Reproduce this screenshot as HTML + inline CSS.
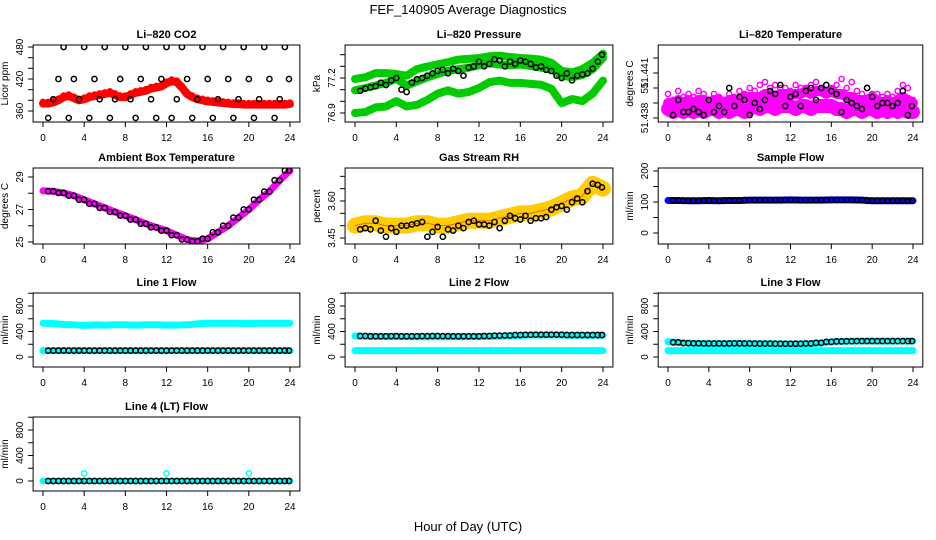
<!DOCTYPE html>
<html><head><meta charset="utf-8"><style>
html,body{margin:0;padding:0;background:#fff}
svg{display:block;font-family:"Liberation Sans",sans-serif}
</style></head><body>
<svg id="root" width="936" height="540" viewBox="0 0 936 540">
<text x="468" y="14" text-anchor="middle" font-size="13">FEF_140905  Average Diagnostics</text>
<text x="468" y="531" text-anchor="middle" font-size="13">Hour of Day (UTC)</text>
</svg>
<script>
// ---- data ----
const hourTicks=[0,4,8,12,16,20,24];
const halfHours=[0,0.5,1,1.5,2,2.5,3,3.5,4,4.5,5,5.5,6,6.5,7,7.5,8,8.5,9,9.5,10,10.5,11,11.5,12,12.5,13,13.5,14,14.5,15,15.5,16,16.5,17,17.5,18,18.5,19,19.5,20,20.5,21,21.5,22,22.5,23,23.5,24];
const hours=[0,1,2,3,4,5,6,7,8,9,10,11,12,13,14,15,16,17,18,19,20,21,22,23,24];
const blkHours=[0.5,1,1.5,2,2.5,3,3.5,4,4.5,5,5.5,6,6.5,7,7.5,8,8.5,9,9.5,10,10.5,11,11.5,12,12.5,13,13.5,14,14.5,15,15.5,16,16.5,17,17.5,18,18.5,19,19.5,20,20.5,21,21.5,22,22.5,23,23.5,23.9];
// CO2
const co2Red=[374,374,376,380,386,388,384,380,382,386,388,390,392,394,390,386,386,390,394,396,398,402,404,406,412,416,414,404,392,386,382,380,378,377,376,375,374,373,373,372,372,372,372,372,372,372,372,372,373];
const co2Blk=[347,382,420,480,347,420,382,480,347,420,382,480,347,382,420,480,382,347,420,480,382,347,420,480,347,382,480,420,347,382,480,420,347,382,480,420,347,382,480,420,347,382,480,420,347,382,480,420];
// Pressure
const presUpper=[77.192,77.206,77.242,77.242,77.234,77.220,77.276,77.298,77.316,77.336,77.358,77.364,77.372,77.386,77.392,77.380,77.372,77.366,77.358,77.330,77.262,77.248,77.276,77.330,77.408];
const presMid=[77.094,77.114,77.136,77.158,77.192,77.136,77.170,77.206,77.234,77.262,77.276,77.288,77.308,77.326,77.316,77.308,77.316,77.302,77.288,77.276,77.220,77.206,77.226,77.276,77.372];
const presLower=[76.900,76.908,76.948,76.956,77.002,76.956,76.970,77.012,77.066,77.094,77.066,77.080,77.114,77.164,77.178,77.158,77.158,77.150,77.142,77.108,76.984,77.020,77.002,77.066,77.178];
const presBlk=[77.09,77.11,77.12,77.13,77.16,77.14,77.18,77.20,77.10,77.08,77.16,77.19,77.20,77.22,77.24,77.26,77.27,77.24,77.28,77.26,77.22,77.29,77.30,77.34,77.30,77.32,77.36,77.35,77.30,77.34,77.32,77.35,77.34,77.32,77.29,77.30,77.27,77.26,77.22,77.20,77.24,77.18,77.22,77.23,77.24,77.28,77.34,77.40];
// Temperature
const tempLow=[51.4383,51.4382,51.4383,51.4382,51.4383,51.4382,51.4383,51.4382,51.4383,51.4383,51.4382,51.4383,51.4382,51.4383,51.4383,51.4382,51.4383,51.4384,51.4383,51.4384,51.4384,51.4383,51.4384,51.4384,51.4384,51.4383,51.4384,51.4384,51.4383,51.4384,51.4384,51.4384,51.4384,51.4383,51.4383,51.4382,51.4383,51.4383,51.4382,51.4383,51.4383,51.4382,51.4383,51.4382,51.4383,51.4382,51.4383,51.4382,51.4382];
const tempHigh=[51.4385,51.4385,51.4386,51.4385,51.4386,51.4385,51.4386,51.4386,51.4385,51.4386,51.4386,51.4385,51.4386,51.4386,51.4386,51.4387,51.4387,51.4387,51.4387,51.4388,51.4388,51.4387,51.4388,51.4388,51.4388,51.4388,51.4388,51.4389,51.4388,51.4389,51.4389,51.4388,51.4389,51.4388,51.4388,51.4387,51.4387,51.4386,51.4386,51.4386,51.4387,51.4386,51.4385,51.4386,51.4385,51.4386,51.4387,51.4386,51.4385];
const tempScatter=[51.4388,51.4386,51.4389,51.4387,51.4388,51.4387,51.4389,51.4388,51.4386,51.4388,51.4387,51.4386,51.4388,51.4387,51.4389,51.4388,51.4390,51.4389,51.4391,51.4392,51.4390,51.4391,51.4390,51.4390,51.4389,51.4391,51.4390,51.4390,51.4391,51.4392,51.4390,51.4391,51.4390,51.4391,51.4393,51.4390,51.4392,51.4389,51.4388,51.4390,51.4388,51.4388,51.4387,51.4388,51.4387,51.4389,51.4391,51.4390,51.4386];
const tempBlk=[51.4381,51.4386,51.4382,51.4382,51.4383,51.4382,51.4381,51.4386,51.4382,51.4384,51.4382,51.4390,51.4384,51.4387,51.4386,51.4381,51.4385,51.4383,51.4386,51.4389,51.4388,51.4391,51.4384,51.4387,51.4388,51.4384,51.4389,51.4390,51.4386,51.4390,51.4391,51.4389,51.4388,51.4382,51.4386,51.4385,51.4384,51.4383,51.4390,51.4387,51.4384,51.4385,51.4385,51.4384,51.4385,51.4389,51.4381,51.4384];
// Ambient
const ambient=[28.15,28.12,28.02,27.85,27.6,27.35,27.1,26.85,26.62,26.38,26.12,25.9,25.7,25.42,25.15,25.05,25.2,25.6,26.0,26.5,27.0,27.6,28.1,28.8,29.4];
// RH
const rhBand=[3.50,3.51,3.51,3.50,3.50,3.50,3.51,3.51,3.50,3.50,3.51,3.52,3.52,3.52,3.53,3.54,3.55,3.55,3.56,3.57,3.59,3.61,3.62,3.67,3.65];
const rhBlk=[3.485,3.49,3.485,3.52,3.48,3.455,3.49,3.475,3.50,3.50,3.505,3.51,3.515,3.455,3.475,3.495,3.455,3.485,3.48,3.50,3.49,3.515,3.52,3.505,3.505,3.50,3.515,3.49,3.52,3.54,3.53,3.525,3.54,3.52,3.53,3.53,3.535,3.565,3.575,3.58,3.565,3.595,3.61,3.595,3.64,3.67,3.665,3.655];
// Flows
const sampleFlow=[105,105,104,104,105,104,105,105,106,106,106,106,107,106,106,106,107,107,107,106,104,104,104,104,104];
const line1High=[530,525,510,505,495,505,500,505,505,500,505,505,500,500,505,520,530,530,530,530,525,530,530,530,530];
const line1Low=[100,100,100,100,100,100,100,100,100,100,100,100,100,100,100,100,100,100,100,100,100,100,100,100,100];
const line1Blk=[100,100,100,100,100,100,100,100,100,100,100,100,100,100,100,100,100,100,100,100,100,100,100,100,100];
const line2Cyan=[330,325,322,320,322,320,318,318,318,318,320,320,320,322,325,330,340,345,345,345,345,340,340,340,340];
const line2Low=[100,100,100,100,100,100,100,100,100,100,100,100,100,100,100,100,100,100,100,100,100,100,100,100,100];
const line2Blk=[330,330,325,325,328,326,325,328,330,328,326,325,326,330,335,338,345,348,350,350,350,345,345,345,345];
const line3Cyan=[240,230,215,212,210,210,210,212,210,208,208,205,205,205,210,220,235,245,248,250,250,250,250,250,250];
const line3Low=[100,100,100,100,100,100,100,100,100,100,100,100,100,100,100,100,100,100,100,100,100,100,100,100,100];
const line3Blk=[235,230,218,215,212,212,212,214,212,210,210,208,207,208,212,222,238,245,248,250,250,250,250,250,250];
const line4Cyan=[0,0,0,0,120,0,0,0,0,0,0,0,120,0,0,0,0,0,0,0,120,0,0,0,0];
const line4Blk=[0,0,0,0,0,0,0,0,0,0,0,0,0,0,0,0,0,0,0,0,0,0,0,0,0];

const NS="http://www.w3.org/2000/svg";
const root=document.getElementById('root');
function mk(tag,attrs,parent){const e=document.createElementNS(NS,tag);for(const k in attrs)e.setAttribute(k,attrs[k]);(parent||root).appendChild(e);return e;}

const cols=[{h0:43,h24:290},{h0:355,h24:603},{h0:668,h24:913}];
const rows=[{top:45,bot:122},{top:168,bot:244},{top:293,bot:367},{top:417,bot:491}];

function panel(name,title,col,row,ylab,ymin,ymax,ypmin,ypmax,ticks,tickLabels){
  const c=cols[col],r=rows[row];
  const g=mk('g',{});
  
  
  const sx=h=>c.h0+(c.h24-c.h0)*h/24;
  const sy=v=>ypmin+(ypmax-ypmin)*(v-ymin)/(ymax-ymin);
  const left=sx(-0.96),right=sx(24.96);
  const clipId='clip-'+name;
  const cp=mk('clipPath',{id:clipId},g);
  mk('rect',{x:left,y:r.top,width:right-left,height:r.bot-r.top},cp);
  const plot=mk('g',{'clip-path':`url(#${clipId})`},g);
  
  
  const box=mk('rect',{x:left,y:r.top,width:right-left,height:r.bot-r.top,fill:'none',stroke:'#000','stroke-width':1},g);
  
  
  const t=mk('text',{x:(left+right)/2,y:r.top-7,'text-anchor':'middle','font-size':11,'font-weight':'bold'},g);
  t.textContent=title;
  
  
  const xa=mk('g',{},g);
  
  
  mk('line',{x1:sx(0),x2:sx(24),y1:r.bot,y2:r.bot,stroke:'#000'},xa);
  hourTicks.forEach(h=>{
    mk('line',{x1:sx(h),x2:sx(h),y1:r.bot,y2:r.bot+5,stroke:'#000'},xa);
    const tl=mk('text',{x:sx(h),y:r.bot+19,'text-anchor':'middle','font-size':10},xa);
    tl.textContent=h;
    
    
  });
  const ya=mk('g',{},g);
  
  
  ticks.forEach((v,i)=>{
    const y=sy(v);
    mk('line',{x1:left-5,x2:left,y1:y,y2:y,stroke:'#000'},ya);
    if(tickLabels[i]!==''){
      const tl=mk('text',{x:left-10,y:y,'text-anchor':'middle','font-size':10,transform:`rotate(-90 ${left-10} ${y})`},ya);
      tl.textContent=tickLabels[i];
      
      
    }
  });
  const yl=mk('text',{x:left-25,y:(r.top+r.bot)/2,'text-anchor':'middle','font-size':10,transform:`rotate(-90 ${left-25} ${(r.top+r.bot)/2})`},g);
  yl.textContent=ylab;
  
  
  return {g:plot,sx,sy};
}
function band(p,xs,vs,color,w,name){
  const pts=xs.map((h,i)=>p.sx(h)+','+p.sy(vs[i])).join(' ');
  const pl=mk('polyline',{points:pts,fill:'none',stroke:color,'stroke-width':w,'stroke-linejoin':'round','stroke-linecap':'round'},p.g);
  
  
}
function dots(p,xs,vs,color,rad,sw,name){
  const gg=mk('g',{},p.g);
  
  
  xs.forEach((h,i)=>{
    const c=mk('circle',{cx:p.sx(h),cy:p.sy(vs[i]),r:rad,fill:'none',stroke:color,'stroke-width':sw},gg);
    
    
  });
}

// Li-820 CO2
let p=panel('co2','Li\u2013820 CO2',0,0,'Licor ppm',360,480,111,47,[360,380,400,420,440,460,480],['360','','','420','','','480']);
band(p,halfHours,co2Red,'#f00',8,'co2-red-series');
dots(p,halfHours,co2Red.map(v=>v+3),'#f00',2.5,1.5,'co2-red-points');
dots(p,blkHours,co2Blk,'#000',2.6,1.5,'co2-black-points');

// Pressure
p=panel('pressure','Li\u2013820 Pressure',1,0,'kPa',76.9,77.2,113,78,[76.9,77.0,77.1,77.2,77.3,77.4],['76.9','','','77.2','','']);
band(p,hours,presUpper,'#0c0',8,'pressure-upper-band');
band(p,hours,presMid,'#0c0',8,'pressure-middle-band');
band(p,hours,presLower,'#0c0',8,'pressure-lower-band');
dots(p,blkHours,presBlk,'#000',2.6,1.5,'pressure-black-points');

// Temperature
p=panel('temperature','Li\u2013820 Temperature',2,0,'degrees C',51.438,51.440,118,58,[51.438,51.4385,51.439,51.4395,51.440],['51.438','','51','51.441','']);
band(p,halfHours,tempLow,'#f0f',14,'temperature-low-band');
band(p,halfHours,tempHigh,'#f0f',10,'temperature-high-band');
dots(p,halfHours,tempScatter,'#f0f',2.6,1.5,'temperature-scatter-points');
dots(p,blkHours,tempBlk,'#000',2.6,1.5,'temperature-black-points');

// Ambient
p=panel('ambient','Ambient Box Temperature',0,1,'degrees C',25,29,242,177,[25,26,27,28,29],['25','','27','','29']);
band(p,hours,ambient,'#f0f',7,'ambient-magenta-series');
dots(p,blkHours,blkHours.map(h=>ambient[Math.round(h)]),'#000',2.6,1.5,'ambient-black-points');

// RH
p=panel('rh','Gas Stream RH',1,1,'percent',3.45,3.60,238,201,[3.45,3.50,3.55,3.60,3.65,3.70],['3.45','','','3.60','','']);
band(p,hours,rhBand,'#fc0',16,'rh-orange-band');
band(p,hours,rhBand,'#e60',1,'rh-red-texture');
dots(p,blkHours,rhBlk,'#000',2.6,1.5,'rh-black-points');

// Sample flow
p=panel('sample-flow','Sample Flow',2,1,'ml/min',0,200,233,171,[0,50,100,150,200],['0','','100','','200']);
band(p,hours,sampleFlow,'#00f',7,'sample-flow-blue-series');
dots(p,blkHours,blkHours.map(h=>sampleFlow[Math.round(h)]),'#000',2.6,1.5,'sample-flow-black-points');

// Line flows
const flowTicks=[0,200,400,600,800,1000],flowLabels=['0','','400','','800',''];
p=panel('line1','Line 1 Flow',0,2,'ml/min',0,800,357,306,flowTicks,flowLabels);
band(p,hours,line1High,'#0ff',7,'line1-cyan-high');
band(p,hours,line1Low,'#0ff',7,'line1-cyan-low');
dots(p,blkHours,blkHours.map(h=>line1Blk[Math.round(h)]),'#000',2.6,1.5,'line1-black-points');

p=panel('line2','Line 2 Flow',1,2,'ml/min',0,800,357,306,flowTicks,flowLabels);
band(p,hours,line2Cyan,'#0ff',7,'line2-cyan-high');
band(p,hours,line2Low,'#0ff',7,'line2-cyan-low');
dots(p,blkHours,blkHours.map(h=>line2Blk[Math.round(h)]),'#000',2.6,1.5,'line2-black-points');

p=panel('line3','Line 3 Flow',2,2,'ml/min',0,800,357,306,flowTicks,flowLabels);
band(p,hours,line3Cyan,'#0ff',7,'line3-cyan-high');
band(p,hours,line3Low,'#0ff',7,'line3-cyan-low');
dots(p,blkHours,blkHours.map(h=>line3Blk[Math.round(h)]),'#000',2.6,1.5,'line3-black-points');

p=panel('line4','Line 4 (LT) Flow',0,3,'ml/min',0,800,481,430,flowTicks,flowLabels);
band(p,hours,line4Cyan.map(v=>0),'#0ff',6,'line4-cyan-base');
dots(p,hours,line4Cyan,'#0ff',2.6,1.5,'line4-cyan-points');
dots(p,blkHours,blkHours.map(h=>line4Blk[Math.round(h)]),'#000',2.6,1.5,'line4-black-points');
</script>
</body></html>
